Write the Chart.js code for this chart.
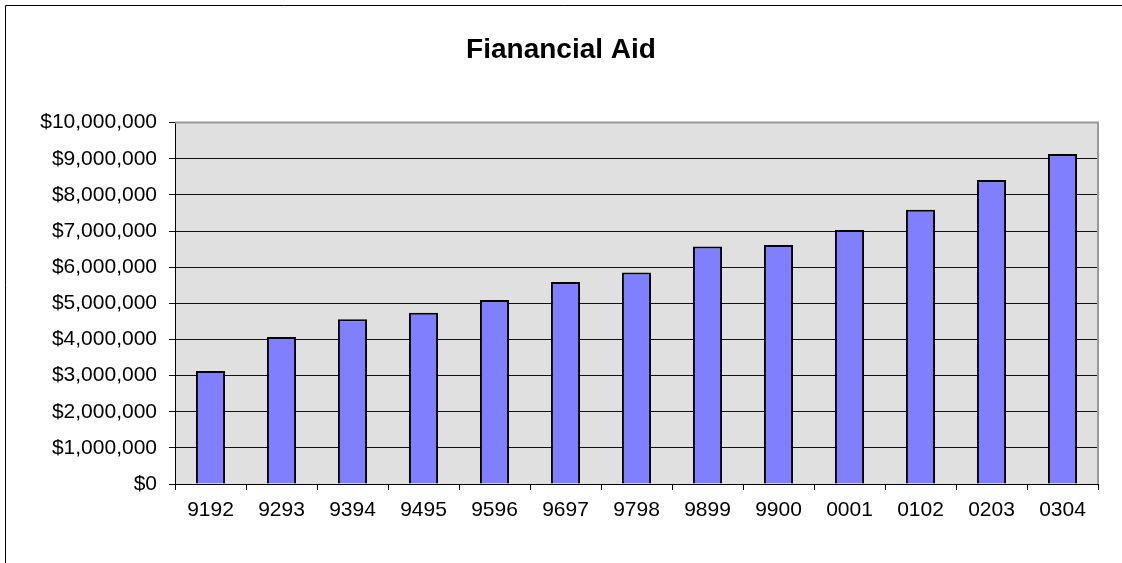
<!DOCTYPE html>
<html>
<head>
<meta charset="utf-8">
<script src="https://cdn.jsdelivr.net/npm/chart.js@4"></script>
<style>
  html, body { margin: 0; padding: 0; background: #fff; overflow: hidden; }
  #wrap { width: 1122px; height: 563px; }
  canvas { display: block; }
</style>
</head>
<body>
<div id="wrap"><canvas id="mychart" width="1122" height="563"></canvas></div>
<script>
const years = ['9192','9293','9394','9495','9596','9697','9798','9899','9900','0001','0102','0203','0304'];
const aid = [3130000, 4070000, 4560000, 4740000, 5090000, 5590000, 5850000, 6570000, 6610000, 7030000, 7590000, 8410000, 9130000];
const yTicks = [0, 1000000, 2000000, 3000000, 4000000, 5000000, 6000000, 7000000, 8000000, 9000000, 10000000];

// gray plot background + outer chart frame (only left and top edges show)
const frame = {
  id: 'frame',
  beforeDraw(chart) {
    const ctx = chart.ctx;
    const a = chart.chartArea;
    ctx.save();
    ctx.fillStyle = '#fff';
    ctx.fillRect(0, 0, chart.width, chart.height);
    ctx.fillStyle = '#E0E0E0';
    ctx.fillRect(a.left, a.top, a.right - a.left, a.bottom - a.top);
    ctx.restore();
  },
  afterDatasetsDraw(chart) {
    const ctx = chart.ctx;
    const a = chart.chartArea;
    ctx.save();
    ctx.strokeStyle = '#999';
    ctx.lineWidth = 2;
    ctx.beginPath();
    ctx.moveTo(a.left, a.top);
    ctx.lineTo(a.right, a.top);
    ctx.lineTo(a.right, a.bottom);
    ctx.stroke();
    ctx.restore();
  },
  afterDraw(chart) {
    const ctx = chart.ctx;
    ctx.save();
    ctx.fillStyle = '#fff';
    ctx.fillRect(1104, 6, 18, chart.height);
    ctx.strokeStyle = '#000';
    ctx.lineWidth = 1;
    ctx.beginPath();
    ctx.moveTo(5.5, chart.height);
    ctx.lineTo(5.5, 5.5);
    ctx.lineTo(chart.width, 5.5);
    ctx.stroke();
    ctx.restore();
  }
};

const canvas = document.getElementById('mychart');

const grafico = new Chart(canvas, {
  type: 'bar',
  data: {
    labels: years,
    datasets: [{
      label: 'Financial Aid',
      data: aid,
      backgroundColor: '#8080FF',
      borderColor: '#000',
      borderWidth: 2,
      categoryPercentage: 1,
      barPercentage: 0.41
    }]
  },
  options: {
    responsive: false,
    animation: false,
    layout: { padding: 0 },
    plugins: {
      legend: { display: false },
      tooltip: { enabled: false },
      title: {
        display: true,
        text: 'Fianancial Aid',
        color: '#000',
        font: { family: 'Liberation Sans, Arial', size: 28, weight: 'bold' },
        padding: { top: 33, bottom: 56 }
      }
    },
    scales: {
      x: {
        offset: true,
        grid: { offset: true, drawOnChartArea: false, color: '#000', tickLength: 6 },
        border: { color: '#000', width: 1 },
        ticks: {
          color: '#000',
          font: { family: 'Liberation Sans, Arial', size: 21 },
          padding: 8,
          maxRotation: 0
        },
        afterFit(scale) { scale.height = 79; }
      },
      y: {
        min: 0,
        max: 10000000,
        afterBuildTicks(scale) { scale.ticks = yTicks.map(v => ({ value: v })); },
        grid: { color: '#111', lineWidth: 1, tickLength: 6 },
        border: { color: '#000', width: 1 },
        ticks: {
          color: '#000',
          font: { family: 'Liberation Sans, Arial', size: 21 },
          padding: 12,
          callback: v => '$' + Number(v).toLocaleString('en-US')
        },
        afterFit(scale) { scale.width = 175; }
      },
      // empty right-hand spacer so the plot stops at the same place
      spacer: {
        type: 'linear',
        position: 'right',
        display: true,
        grid: { display: false },
        border: { display: false },
        ticks: { display: false },
        afterFit(scale) { scale.width = 24; }
      }
    }
  },
  plugins: [frame]
});
</script>
</body>
</html>
